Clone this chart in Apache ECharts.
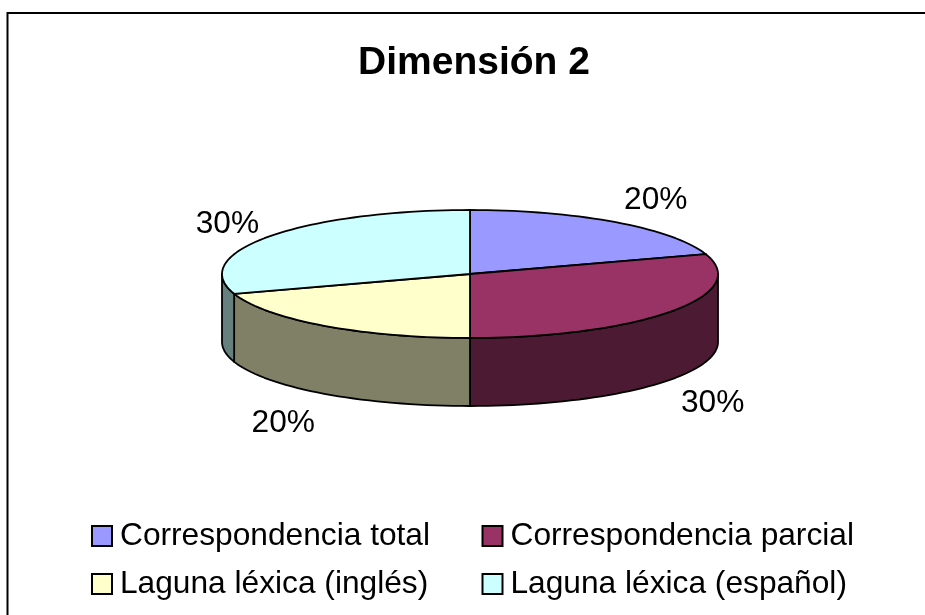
<!DOCTYPE html>
<html><head><meta charset="utf-8">
<style>html,body{margin:0;padding:0;background:#fff}#c{width:925px;height:615px}</style>
<script src="https://cdn.jsdelivr.net/npm/echarts@6/dist/echarts.min.js"></script>
</head><body><div id="c"></div>
<script>
const titleText = 'Dimensión 2';
const categories = ['Correspondencia total','Correspondencia parcial','Laguna léxica (inglés)','Laguna léxica (español)'];
const values = [20,30,20,30];
const topColors = ['#9999FF','#993366','#FFFFCC','#CCFFFF'];
const sideColors = ['#4D4D80','#4D1A33','#808066','#668080'];
const labelOffsets = [[40,-22],[42,24],[-41,29],[-42,-12]];
const DEPTH = 1.0625; // wall height, in units of the ellipse's vertical radius

const total = values.reduce((a,b)=>a+b,0);
const starts = []; let acc = 0;
values.forEach(v=>{starts.push(acc/total*Math.PI*2); acc+=v;});
const pt = (a,d)=>[Math.sin(a), Math.cos(a)-(d||0)];

function arcPts(a0,a1,d){
  const n = Math.max(2,Math.ceil((a1-a0)/(Math.PI/90))); const out=[];
  for(let i=0;i<=n;i++) out.push(pt(a0+(a1-a0)*i/n,d));
  return out;
}
function renderSlice(params,api){
  const i = params.seriesIndex;
  const a0 = starts[i], a1 = a0+values[i]/total*Math.PI*2;
  const co = p=>api.coord(p);
  const children = [];
  const line = {stroke:'#000',lineWidth:1.8,lineJoin:'round'};
  const s0 = Math.max(a0,Math.PI/2), s1 = Math.min(a1,Math.PI*1.5);
  if(s1>s0){
    const pts = arcPts(s0,s1,0).concat(arcPts(s0,s1,DEPTH).reverse()).map(co);
    children.push({type:'polygon',shape:{points:pts},style:Object.assign({fill:sideColors[i]},line)});
  }
  const top = [[0,0],...arcPts(a0,a1,0)].map(co);
  children.push({type:'polygon',shape:{points:top},style:Object.assign({fill:topColors[i]},line)});
  const mid=(a0+a1)/2, d = (mid>Math.PI/2&&mid<Math.PI*1.5)?DEPTH:0;
  const c = co(pt(mid,d));
  children.push({type:'text',style:{text:api.value(0)+'%',x:c[0]+labelOffsets[i][0],y:c[1]+labelOffsets[i][1],
    align:'center',verticalAlign:'middle',fill:'#000',font:'31.7px "Liberation Sans"'}});
  return {type:'group',children};
}
const chart = echarts.init(document.getElementById('c'),null,{renderer:'canvas'});
const legendBase = {orient:'vertical',icon:'rect',itemWidth:20,itemHeight:20,itemGap:16,
  selectedMode:false,textStyle:{fontFamily:'Liberation Sans',fontSize:31.7,color:'#000',padding:[0,0,0,3]},padding:0};
chart.setOption({
  animation:false,backgroundColor:'#fff',
  title:{text:titleText,left:474,top:44,textAlign:'center',padding:0,
    textStyle:{fontFamily:'Liberation Sans',fontWeight:'bold',fontSize:39,color:'#000'}},
  grid:{left:222,top:210,width:496,height:128,containLabel:false},
  xAxis:{type:'value',min:-1,max:1,show:false},
  yAxis:{type:'value',min:-1,max:1,show:false},
  legend:[
    Object.assign({},legendBase,{left:91,top:520,data:[categories[0],categories[2]]}),
    Object.assign({},legendBase,{left:481.5,top:520,data:[categories[1],categories[3]]})
  ],
  graphic:[{type:'rect',silent:true,shape:{x:7.5,y:13,width:925,height:615},style:{fill:'none',stroke:'#000',lineWidth:2}}],
  series:categories.map((name,i)=>({
    type:'custom',name,coordinateSystem:'cartesian2d',clip:false,silent:true,
    itemStyle:{color:topColors[i],borderColor:'#000',borderWidth:2},
    data:[[values[i]]],encode:{x:0,y:0},renderItem:renderSlice
  }))
});
</script></body></html>
